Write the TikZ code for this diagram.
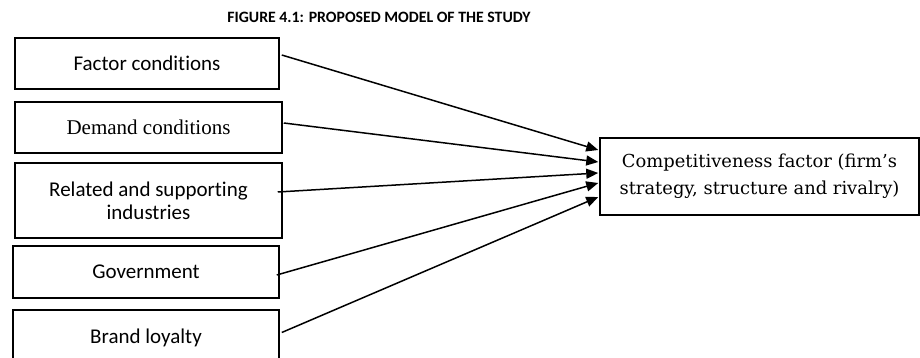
\documentclass[tikz,border=0pt]{standalone}
\usepackage{fontspec}
\setmainfont[Ligatures=NoCommon]{Carlito}
\newfontfamily\timesfont{Liberation Serif}
\newfontfamily\cambfont{DejaVu Serif}
\usetikzlibrary{arrows.meta}
\begin{document}
\begin{tikzpicture}[x=1pt,y=1pt,
  box/.style={draw, line width=1.5pt, inner sep=0pt, align=center,
    font=\fontsize{21}{23}\selectfont},
  link/.style={line width=1.5pt, -{Triangle[length=12pt,width=10pt]}}]
\useasboundingbox (0,0) rectangle (920,358);
\clip (0,0) rectangle (920,358);
\node[font=\bfseries\fontsize{15.8}{18}\selectfont] (title) at (379,341) {FIGURE 4.1: PROPOSED MODEL OF THE STUDY};
\node[box, minimum width=264pt, minimum height=51pt] (f1) at (147,294.5) {Factor conditions};
\node[box, minimum width=267pt, minimum height=51pt, font=\timesfont\fontsize{21}{23}\selectfont] (f2) at (148.5,230.5) {Demand conditions};
\node[box, minimum width=267pt, minimum height=75pt] (f3) at (148.5,157.5) {Related and supporting\\industries};
\node[box, minimum width=266pt, minimum height=52pt] (f4) at (146,86) {Government};
\node[box, minimum width=266pt, minimum height=60pt] (f5) at (146,18) {\raisebox{7pt}{Brand loyalty}};
\node[box, minimum width=319pt, minimum height=77pt, font=\cambfont\fontsize{17.9}{27}\selectfont] (comp) at (759.5,181.5) {Competitiveness factor (firm’s\\strategy, structure and rivalry)};
\draw[link] ([shift={(2,8.5)}]f1.east) -- ([shift={(-1,26.5)}]comp.west);
\draw[link] ([shift={(1,4.5)}]f2.east) -- ([shift={(-1,14.5)}]comp.west);
\draw[link] ([shift={(-5,8.5)}]f3.east) -- ([shift={(-1,3.5)}]comp.west);
\draw[link] ([shift={(-3,-3)}]f4.east) -- ([shift={(-1,-6.5)}]comp.west);
\draw[link] ([shift={(2,7.5)}]f5.east) -- ([shift={(-1,-20.5)}]comp.west);
\end{tikzpicture}
\end{document}
